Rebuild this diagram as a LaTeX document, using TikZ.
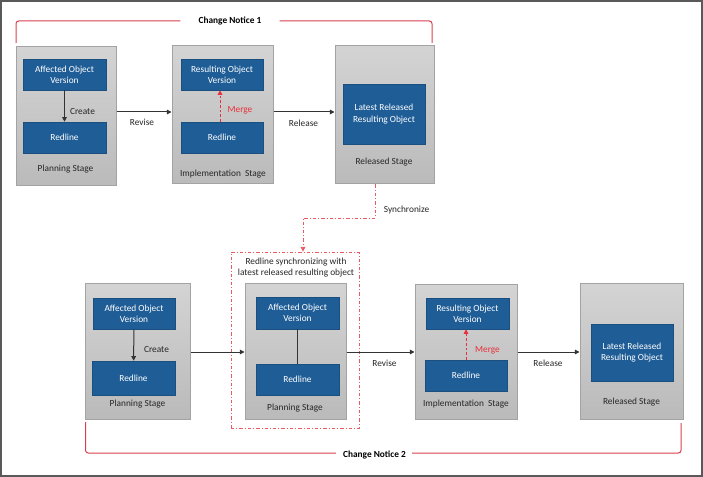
\documentclass[tikz,border=0pt]{standalone}
\usepackage{fontspec}
\setmainfont{Carlito}
\usetikzlibrary{arrows.meta}
\definecolor{bluebox}{HTML}{1F5D96}
\definecolor{graybd}{HTML}{A3A3A3}
\definecolor{redline}{HTML}{D9404E}
\definecolor{redtxt}{HTML}{E8303A}
\definecolor{redsync}{HTML}{EC5A62}
\definecolor{txt}{HTML}{262626}
\definecolor{framec}{HTML}{595959}
\tikzset{
  sz/.style 2 args={minimum width=#1*0.75pt,minimum height=#2*0.75pt},
  stage/.style={draw=graybd,line width=0.75pt,top color=black!17,bottom color=black!27,inner sep=0pt},
  bbox/.style={fill=bluebox,draw=bluebox!85!black,line width=0.4pt,text=white,align=center,inner sep=0pt,font=\fontsize{7pt}{8.4pt}\selectfont},
  lab/.style={text=txt,font=\fontsize{7pt}{8.4pt}\selectfont,inner sep=0pt,align=center},
  mlab/.style={text=redtxt,font=\fontsize{7pt}{8.4pt}\selectfont,inner sep=0pt},
  arr/.style={draw=black!80,line width=0.75pt,-{Triangle[length=3.5pt,width=3.5pt]}},
  conn/.style={draw=black!80,line width=0.75pt},
  merge/.style={color=redtxt,line width=0.75pt,dash pattern=on 2pt off 1.5pt,-{Triangle[length=3.5pt,width=3.5pt]}},
  sync/.style={color=redsync,line width=0.6pt,dash pattern=on 2.5pt off 1.5pt on 0.8pt off 1.5pt,-{Triangle[length=3.5pt,width=3.5pt]}},
  dbox/.style={draw=redsync,line width=0.6pt,dash pattern=on 2.5pt off 1.5pt on 0.8pt off 1.5pt,inner sep=0pt},
  brk/.style={draw=redline,line width=0.75pt,rounded corners=2pt},
  cn/.style={text=black,font=\fontsize{7pt}{8.4pt}\selectfont\bfseries,inner sep=0pt}
}
\begin{document}
\begin{tikzpicture}[x=0.75pt,y=-0.75pt]
\useasboundingbox (0,0) rectangle (703,477);
\fill[white] (0,0) rectangle (703,477);
\draw[framec,line width=1.5pt] (1,1) rectangle (702,476);

% ---------- Change Notice 1 ----------
\node[stage,sz={100}{139}] (s1) at (66,116.5) {};
\node[bbox,sz={83}{31}] (s1a) at (64.5,74.5) {Affected Object\\Version};
\node[bbox,sz={83}{31}] (s1b) at (64.5,137.5) {Redline};
\node[lab] (s1l) at (65.5,169) {Planning Stage};
\draw[arr] (s1a) -- (s1b);
\node[lab] (s1c) at (82.5,112) {Create};

\node[stage,sz={101}{138}] (s2) at (222.5,115) {};
\node[bbox,sz={82}{31}] (s2a) at (222,74.5) {Resulting Object\\Version};
\node[bbox,sz={82}{31}] (s2b) at (222,137.5) {Redline};
\node[lab] (s2l) at (223,174) {Implementation\ \ Stage};
\draw[merge] ([xshift=-1.5pt]s2b.north) -- ([xshift=-1.5pt]s2a.south);
\node[mlab] (s2m) at (240,110) {Merge};

\node[stage,sz={99}{138}] (s3) at (384.5,115) {};
\node[bbox,sz={82}{60}] (s3a) at (384,114) {Latest Released\\Resulting Object};
\node[lab] (s3l) at (384,162) {Released Stage};

\draw[arr] (s1.east |- 0,112) -- (s2.west |- 0,112);
\node[lab] (rv1) at (142,122) {Revise};
\draw[arr] (s2.east |- 0,112) -- (s3.west |- 0,112);
\node[lab] (rl1) at (303.5,123) {Release};

\node[cn] (cn1) at (230,21) {Change Notice 1};
\draw[brk] ([xshift=-18*0.75pt]cn1.west) -| (16,43);
\draw[brk] ([xshift=18*0.75pt]cn1.east) -| (432,43);

% ---------- Synchronize ----------
\node[dbox,sz={128}{176}] (d) at (295,340) {};
\node[lab] (dl) at (296,267.5) {Redline synchronizing with\\latest released resulting object};
\coordinate (sy1) at (303,218);
\draw[sync] (s3.south -| 375,0) |- (sy1) -- (sy1 |- d.north);
\node[lab] (syl) at (406.5,210) {Synchronize};

% ---------- Change Notice 2 ----------
\node[stage,sz={105}{135}] (t1) at (137.5,351.5) {};
\node[bbox,sz={82}{31}] (t1a) at (134,313.5) {Affected Object\\Version};
\node[bbox,sz={83}{34}] (t1b) at (133.5,378) {Redline};
\node[lab] (t1l) at (137.5,404) {Planning Stage};
\draw[arr] (t1a) -- (t1b);
\node[lab] (t1c) at (156.5,350) {Create};

\node[stage,sz={101}{135}] (t2) at (295.5,351.5) {};
\node[bbox,sz={83}{32}] (t2a) at (297.5,313) {Affected Object\\Version};
\node[bbox,sz={83}{31}] (t2b) at (297.5,379.5) {Redline};
\node[lab] (t2l) at (295,408) {Planning Stage};
\draw[conn] (t2a) -- (t2b);

\node[stage,sz={102}{134}] (t3) at (466,352) {};
\node[bbox,sz={83}{31}] (t3a) at (467.5,313.5) {Resulting Object\\Version};
\node[bbox,sz={82}{31}] (t3b) at (466,375.5) {Redline};
\node[lab] (t3l) at (466,404) {Implementation\ \ Stage};
\draw[merge] (t3b.north) -- (t3b.north |- t3a.south);
\node[mlab] (t3m) at (487.5,350) {Merge};

\node[stage,sz={103}{135}] (t4) at (631.5,351.5) {};
\node[bbox,sz={82}{57}] (t4a) at (632,352.5) {Latest Released\\Resulting Object};
\node[lab] (t4l) at (631.5,402) {Released Stage};

\draw[arr] (t1.east |- 0,352) -- (t2.west |- 0,352);
\draw[arr] (t2.east |- 0,352) -- (t3.west |- 0,352);
\node[lab] (rv2) at (384.5,363) {Revise};
\draw[arr] (t3.east |- 0,352) -- (t4.west |- 0,352);
\node[lab] (rl2) at (548,363) {Release};

\node[cn] (cn2) at (374.5,455) {Change Notice 2};
\draw[brk] ([xshift=-7*0.75pt]cn2.west |- 0,453) -| (85.5,422);
\draw[brk] ([xshift=6*0.75pt]cn2.east |- 0,453) -| (681,423);
\end{tikzpicture}
\end{document}
